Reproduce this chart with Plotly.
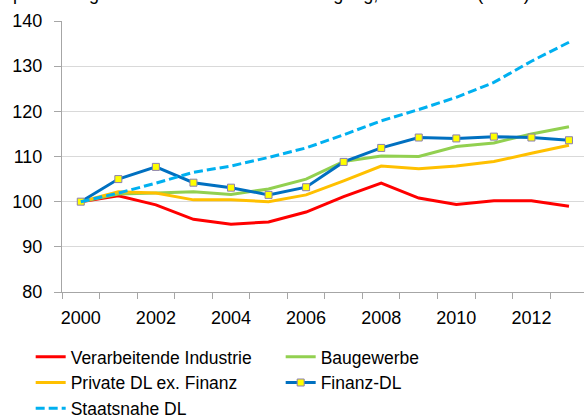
import plotly.graph_objects as go

years = list(range(2000, 2014))

verarbeitende = [100, 101.3, 99.3, 96.1, 95.0, 95.5, 97.7, 101.1, 104.1, 100.8, 99.4, 100.2, 100.2, 99.0]
baugewerbe = [100, 101.7, 101.9, 102.2, 101.6, 102.8, 105.0, 108.9, 110.1, 110.0, 112.2, 113.0, 115.0, 116.6]
private_dl = [100, 102.2, 101.9, 100.4, 100.4, 100.0, 101.5, 104.6, 107.9, 107.3, 107.9, 108.9, 110.7, 112.5]
finanz_dl = [100, 105.0, 107.7, 104.2, 103.1, 101.5, 103.2, 108.8, 111.9, 114.2, 114.0, 114.4, 114.2, 113.6]
staatsnahe = [100, 101.9, 104.1, 106.5, 107.9, 109.8, 111.9, 114.8, 117.9, 120.4, 123.1, 126.4, 131.1, 135.3]

x_labels = [2000, 2002, 2004, 2006, 2008, 2010, 2012]
y_ticks = [80, 90, 100, 110, 120, 130, 140]

COLORS = {
    "verarbeitende": "#ff0000",
    "bau":           "#92d050",
    "private":       "#ffc000",
    "finanz":        "#0070c0",
    "staat":         "#00b0f0",
}

fig = go.Figure()
fig.add_trace(go.Scatter(x=years, y=verarbeitende, name="Verarbeitende Industrie",
                         mode="lines", line=dict(color=COLORS["verarbeitende"], width=3)))
fig.add_trace(go.Scatter(x=years, y=baugewerbe, name="Baugewerbe",
                         mode="lines", line=dict(color=COLORS["bau"], width=3)))
fig.add_trace(go.Scatter(x=years, y=private_dl, name="Private DL ex. Finanz",
                         mode="lines", line=dict(color=COLORS["private"], width=3)))
fig.add_trace(go.Scatter(x=years, y=finanz_dl, name="Finanz-DL",
                         mode="lines+markers", line=dict(color=COLORS["finanz"], width=3),
                         marker=dict(symbol="square", size=7, color="#ffff00",
                                     line=dict(color="#8a7fb0", width=1))))
fig.add_trace(go.Scatter(x=years, y=staatsnahe, name="Staatsnahe DL",
                         mode="lines", line=dict(color=COLORS["staat"], width=3, dash="9px,4px")))

# Titel oben ist im Original abgeschnitten
fig.add_annotation(text="Spartenvergleich im Zeitverlauf: Beschäftigung, Index 2000 (=100)",
                   xref="paper", yref="paper", x=-0.12, y=1.0, yshift=15,
                   xanchor="left", yanchor="bottom", showarrow=False,
                   font=dict(size=18, color="#000000"))

fig.update_layout(
    width=584, height=415,
    margin=dict(l=62, r=0, t=21, b=123, autoexpand=False),
    paper_bgcolor="white",
    plot_bgcolor="white",
    font=dict(family="Liberation Sans, Arial", size=18, color="#000000"),
    showlegend=True,
    legend=dict(orientation="h", x=-0.06, y=-0.173, xanchor="left", yanchor="top",
                entrywidth=205, entrywidthmode="pixels", itemwidth=30,
                font=dict(size=17.5), tracegroupgap=0),
    xaxis=dict(range=[1999.5, 2013.4], tickvals=x_labels, ticks="",
               showgrid=False, showline=True, linecolor="#a6a6a6", linewidth=1,
               ticklabelstandoff=9, zeroline=False,
               minor=dict(ticks="outside", ticklen=6, tickcolor="#a6a6a6",
                          tick0=1999.5, dtick=1, showgrid=False)),
    yaxis=dict(range=[80, 140], tickvals=y_ticks, ticks="outside", ticklen=7,
               tickcolor="#a6a6a6", showline=True, linecolor="#a6a6a6", linewidth=1,
               gridcolor="#d9d9d9", gridwidth=1, zeroline=False, ticklabelstandoff=8),
)

# Browser-Standardrand entfernen, damit die Grafik bei (0,0) beginnt
fig.write_html("out.html", config={"displayModeBar": False},
               post_script="document.body.style.margin='0';")
